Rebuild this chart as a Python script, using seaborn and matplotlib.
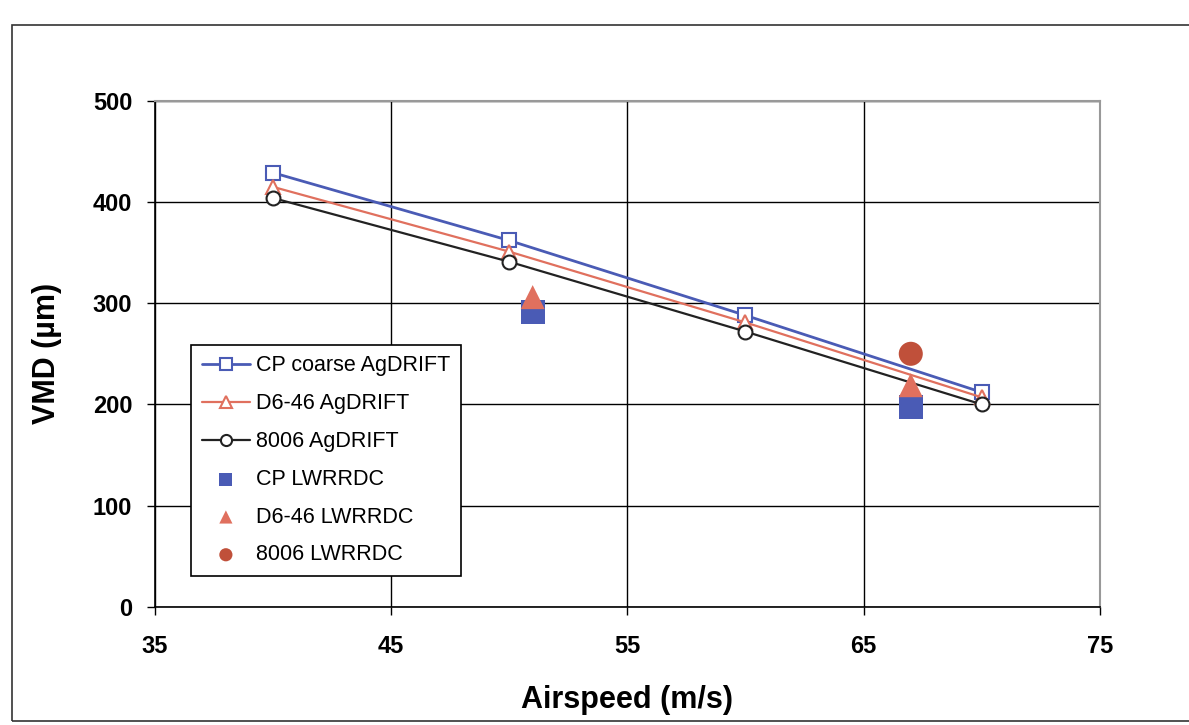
import matplotlib
matplotlib.use("Agg")
import matplotlib.pyplot as plt
import seaborn as sns
import pandas as pd
from matplotlib.patches import Rectangle

# Data
airspeed = [40, 50, 60, 70]
cp_agdrift = [429, 362, 288, 212]
d646_agdrift = [415, 351, 281, 207]
n8006_agdrift = [404, 341, 272, 200]

cp_lw_x = [51, 67]
cp_lw_y = [291, 197]
d646_lw_x = [51, 67]
d646_lw_y = [306, 219]
n8006_lw_x = [67]
n8006_lw_y = [250]

sns.set_theme(style="white")
plt.rcParams['font.family'] = ['Liberation Sans', 'DejaVu Sans']
plt.rcParams['text.color'] = 'black'
plt.rcParams['axes.labelcolor'] = 'black'

fig = plt.figure(figsize=(11.89, 7.25), dpi=100)
ax = fig.add_axes([0.130, 0.163, 0.795, 0.698])

blue = "#4a5bb5"
red = "#e0705e"
black = "#222222"
dred = "#c0503a"

lines = pd.DataFrame({
    "x": airspeed * 3,
    "y": cp_agdrift + d646_agdrift + n8006_agdrift,
    "s": ["CP coarse AgDRIFT"] * 4 + ["D6-46 AgDRIFT"] * 4 + ["8006 AgDRIFT"] * 4,
})
styles = {
    "CP coarse AgDRIFT": (blue, "s", 2.0),
    "D6-46 AgDRIFT": (red, "^", 1.6),
    "8006 AgDRIFT": (black, "o", 1.6),
}
for name, (c, m, lw) in styles.items():
    sub = lines[lines.s == name]
    sns.lineplot(data=sub, x="x", y="y", ax=ax, color=c, lw=lw, marker=m,
                 markersize=10, markerfacecolor="white", markeredgecolor=c,
                 markeredgewidth=1.5, label=name, zorder=3)

sns.scatterplot(x=cp_lw_x, y=cp_lw_y, ax=ax, color=blue, marker="s", s=300,
                edgecolor="none", label="CP LWRRDC", zorder=4)
sns.scatterplot(x=d646_lw_x, y=d646_lw_y, ax=ax, color=red, marker="^", s=300,
                edgecolor="none", label="D6-46 LWRRDC", zorder=5)
sns.scatterplot(x=n8006_lw_x, y=n8006_lw_y, ax=ax, color=dred, marker="o", s=300,
                edgecolor="none", label="8006 LWRRDC", zorder=5)

ax.set_xlim(35, 75)
ax.set_ylim(0, 500)
ax.set_xticks([35, 45, 55, 65, 75])
ax.set_yticks([0, 100, 200, 300, 400, 500])
ax.grid(True, color="black", lw=1.0)
ax.tick_params(axis="both", which="both", direction="out", length=6, width=1,
               labelsize=17, colors="black", bottom=True, left=True)
ax.tick_params(axis="x", pad=14)
ax.tick_params(axis="y", pad=10)
for lab in ax.get_xticklabels() + ax.get_yticklabels():
    lab.set_fontweight("bold")
for side in ["left", "bottom"]:
    ax.spines[side].set_color("black")
    ax.spines[side].set_linewidth(1.2)
for side in ["top", "right"]:
    ax.spines[side].set_color("#999999")
    ax.spines[side].set_linewidth(1.5)

ax.set_xlabel("Airspeed (m/s)", fontsize=22, fontweight="bold", labelpad=20)
ax.set_ylabel("VMD (µm)", fontsize=22, fontweight="bold", labelpad=22)

leg = ax.legend(loc="upper left", bbox_to_anchor=(0.039, 0.518), fontsize=15.5,
                frameon=True, fancybox=False, edgecolor="black",
                borderpad=0.5, labelspacing=0.78, handlelength=2.2,
                handletextpad=0.3, borderaxespad=0)
leg.get_frame().set_linewidth(1.2)
leg.get_frame().set_alpha(1)
for h in leg.legend_handles:
    if hasattr(h, "set_sizes"):
        h.set_sizes([90])
    else:
        h.set_markersize(8)

fig.patches.append(Rectangle((12 / 1189, 0.005), 1.2, 1 - 25 / 725 - 0.005,
                             transform=fig.transFigure, fill=False,
                             edgecolor="#333333", lw=1.2))

fig.savefig("out.png", dpi=100)
